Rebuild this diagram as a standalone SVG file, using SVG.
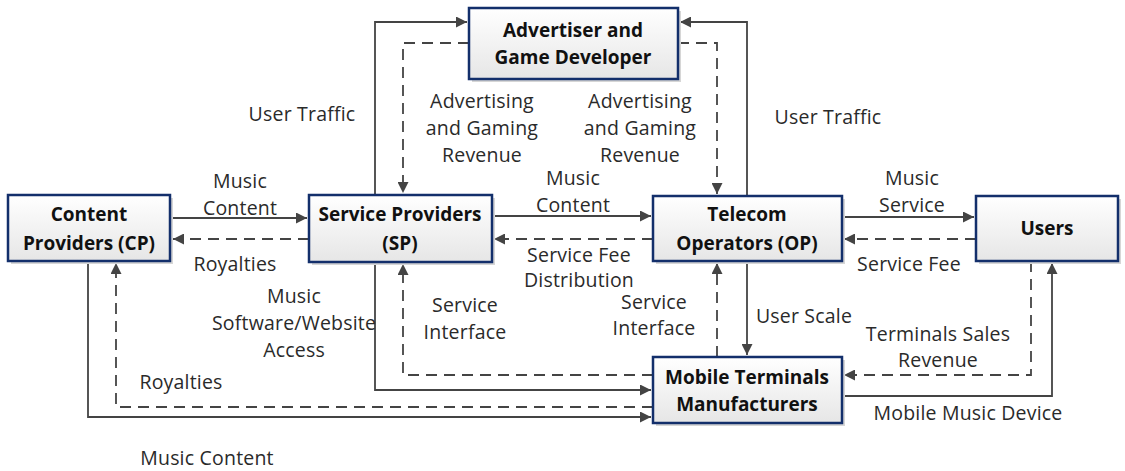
<svg xmlns="http://www.w3.org/2000/svg" width="1125" height="471" viewBox="0 0 1125 471">
<style>
.box{fill:url(#g);stroke:#132f6b;stroke-width:2.5}
.sh{fill:#d6d6d6}
.bt{font-family:"Open Sans","Liberation Sans",sans-serif;font-weight:bold;font-size:19px;fill:#111;text-anchor:middle}
.lb{font-family:"Open Sans","Liberation Sans",sans-serif;font-size:19.5px;fill:#2a2a2a;text-anchor:middle;letter-spacing:0.2px}
.s{fill:none;stroke:#444;stroke-width:1.8}
.d{fill:none;stroke:#444;stroke-width:1.8;stroke-dasharray:11 7}
</style>
<defs>
<linearGradient id="g" x1="0" y1="0" x2="0" y2="1"><stop offset="0" stop-color="#ffffff"/><stop offset="1" stop-color="#e6e6e6"/></linearGradient>
<marker id="a" viewBox="0 0 10 10" refX="10" refY="5" markerWidth="11" markerHeight="11" markerUnits="userSpaceOnUse" orient="auto"><path d="M0,0 L10,5 L0,10 z" fill="#444"/></marker>
</defs>
<g id="connectors">
<path class="s" d="M171,218 H307" marker-end="url(#a)"/>
<path class="d" d="M309,239 H173" marker-end="url(#a)"/>
<path class="s" d="M492,216 H651" marker-end="url(#a)"/>
<path class="d" d="M653,239 H494" marker-end="url(#a)"/>
<path class="s" d="M842,217 H974" marker-end="url(#a)"/>
<path class="d" d="M976,239 H844" marker-end="url(#a)"/>
<path class="s" d="M375,195 V22 H467" marker-end="url(#a)"/>
<path class="d" d="M469,43 H403 V193" marker-end="url(#a)"/>
<path class="d" d="M678,43 H717 V194" marker-end="url(#a)"/>
<path class="s" d="M747,196 V22 H680" marker-end="url(#a)"/>
<path class="s" d="M747,261 V355" marker-end="url(#a)"/>
<path class="d" d="M717,357 V263" marker-end="url(#a)"/>
<path class="d" d="M1031,261 V375 H844" marker-end="url(#a)"/>
<path class="s" d="M842,396 H1052 V263" marker-end="url(#a)"/>
<path class="s" d="M375,262 V390 H651" marker-end="url(#a)"/>
<path class="d" d="M653,375 H403 V264" marker-end="url(#a)"/>
<path class="s" d="M88,261 V417 H651" marker-end="url(#a)"/>
<path class="d" d="M653,407 H116 V263" marker-end="url(#a)"/>
</g>
<g id="labels">
<text class="lb" x="302" y="121">User Traffic</text>
<text class="lb" x="482" y="108">Advertising</text>
<text class="lb" x="482" y="135">and Gaming</text>
<text class="lb" x="482" y="162">Revenue</text>
<text class="lb" x="640" y="108">Advertising</text>
<text class="lb" x="640" y="135">and Gaming</text>
<text class="lb" x="640" y="162">Revenue</text>
<text class="lb" x="828" y="124">User Traffic</text>
<text class="lb" x="240" y="188">Music</text>
<text class="lb" x="240" y="215">Content</text>
<text class="lb" x="235" y="271">Royalties</text>
<text class="lb" x="573" y="185">Music</text>
<text class="lb" x="573" y="212">Content</text>
<text class="lb" x="579" y="262">Service Fee</text>
<text class="lb" x="579" y="287">Distribution</text>
<text class="lb" x="912" y="185">Music</text>
<text class="lb" x="912" y="212">Service</text>
<text class="lb" x="909" y="271">Service Fee</text>
<text class="lb" x="294" y="303">Music</text>
<text class="lb" x="294" y="330">Software/Website</text>
<text class="lb" x="294" y="357">Access</text>
<text class="lb" x="465" y="312">Service</text>
<text class="lb" x="465" y="339">Interface</text>
<text class="lb" x="654" y="309">Service</text>
<text class="lb" x="654" y="335">Interface</text>
<text class="lb" x="804" y="323">User Scale</text>
<text class="lb" x="938" y="341">Terminals Sales</text>
<text class="lb" x="938" y="367">Revenue</text>
<text class="lb" x="181" y="389">Royalties</text>
<text class="lb" x="968" y="420">Mobile Music Device</text>
<text class="lb" x="207" y="465">Music Content</text>
</g>
<g id="cp">
<rect class="sh" x="11" y="198" width="162" height="66"/>
<rect class="box" x="8" y="195" width="162" height="66"/>
<text class="bt" x="89" y="221">Content</text>
<text class="bt" x="89" y="250">Providers (CP)</text>
</g>
<g id="sp">
<rect class="sh" x="312" y="198" width="183" height="67"/>
<rect class="box" x="309" y="195" width="183" height="67"/>
<text class="bt" x="400" y="221">Service Providers</text>
<text class="bt" x="400" y="250">(SP)</text>
</g>
<g id="adv">
<rect class="sh" x="472" y="11" width="209" height="71"/>
<rect class="box" x="469" y="8" width="209" height="71"/>
<text class="bt" x="573" y="37">Advertiser and</text>
<text class="bt" x="573" y="64">Game Developer</text>
</g>
<g id="op">
<rect class="sh" x="656" y="199" width="189" height="65"/>
<rect class="box" x="653" y="196" width="189" height="65"/>
<text class="bt" x="747" y="221">Telecom</text>
<text class="bt" x="747" y="250">Operators (OP)</text>
</g>
<g id="users">
<rect class="sh" x="979" y="199" width="142" height="65"/>
<rect class="box" x="976" y="196" width="142" height="65"/>
<text class="bt" x="1047" y="235">Users</text>
</g>
<g id="mt">
<rect class="sh" x="656" y="360" width="189" height="66"/>
<rect class="box" x="653" y="357" width="189" height="66"/>
<text class="bt" x="747" y="384">Mobile Terminals</text>
<text class="bt" x="747" y="411">Manufacturers</text>
</g>
</svg>
